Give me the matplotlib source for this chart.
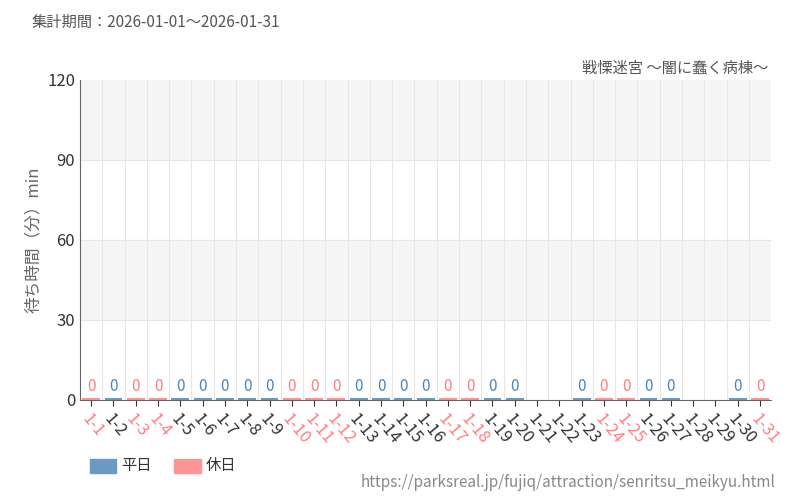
import matplotlib
matplotlib.use('Agg')
import matplotlib.pyplot as plt
import numpy as np

plt.rcParams['font.family'] = ['Noto Sans CJK JP', 'DejaVu Sans']

days = ['1-%d' % d for d in range(1, 32)]
waits = [0, 0, 0, 0, 0, 0, 0, 0, 0, 0, 0, 0, 0, 0, 0, 0, 0, 0, 0, 0,
         None, None, 0, 0, 0, 0, 0, None, None, 0, 0]
holidays = [1, 3, 4, 10, 11, 12, 17, 18, 24, 25, 31]

blue = '#6a9ac4'
red = '#ff9494'
blue_txt = '#4f86b8'
red_txt = '#ff7f7f'

fig = plt.figure(figsize=(8, 5), dpi=100)
ax = fig.add_axes([0.1, 0.2, 0.864, 0.64])

x = np.arange(len(days))
ax.set_xlim(-0.5, len(days) - 0.5)
ax.set_ylim(0, 120)

for lo, hi in [(30, 60), (90, 120)]:
    ax.axhspan(lo, hi, color='#f5f5f5', zorder=0)
for y in [30, 60, 90]:
    ax.axhline(y, color='#e6e6e6', lw=0.8, zorder=0.5)
for b in np.arange(0.5, len(days) - 0.5):
    ax.axvline(b, color='#e6e6e6', lw=0.8, zorder=0.5)

for i, v in enumerate(waits):
    if v is None:
        continue
    hol = (i + 1) in holidays
    ax.bar(i, max(v, 0.6), width=0.8, color=red if hol else blue, zorder=2)
    ax.text(i, v + 2, str(v), ha='center', va='bottom', fontsize=11,
            color=red_txt if hol else blue_txt, zorder=3,
            bbox=dict(boxstyle='round,pad=0.05', fc='white', ec='none'))

ax.set_xticks(x)
ax.set_xticklabels(days, rotation=-50, ha='left', rotation_mode='anchor', fontsize=12)
for i, lab in enumerate(ax.get_xticklabels()):
    lab.set_color(red_txt if (i + 1) in holidays else '#333333')
ax.set_yticks([0, 30, 60, 90, 120])
ax.tick_params(axis='y', length=0, labelsize=12, labelcolor='#333333')
ax.tick_params(axis='x', length=4, color='#333333')
for s in ['top', 'right']:
    ax.spines[s].set_visible(False)
ax.spines['left'].set_color('#666666')
ax.spines['bottom'].set_color('#666666')
ax.set_ylabel('待ち時間（分）min', fontsize=12, color='#666666')

fig.text(0.04, 0.955, '集計期間：2026-01-01〜2026-01-31', fontsize=11, color='#555555', va='center')
fig.text(0.96, 0.865, '戦慄迷宮 〜闇に蠢く病棟〜', fontsize=11, color='#555555', ha='right', va='center')
fig.text(0.97, 0.035, 'https://parksreal.jp/fujiq/attraction/senritsu_meikyu.html',
         fontsize=11, color='#888888', ha='right', va='center')

fig.patches.append(plt.Rectangle((0.112, 0.055), 0.033, 0.028, color=blue, transform=fig.transFigure))
fig.text(0.151, 0.069, '平日', fontsize=11, color='#333333', va='center')
fig.patches.append(plt.Rectangle((0.218, 0.055), 0.033, 0.028, color=red, transform=fig.transFigure))
fig.text(0.257, 0.069, '休日', fontsize=11, color='#333333', va='center')

fig.savefig('out.png')
